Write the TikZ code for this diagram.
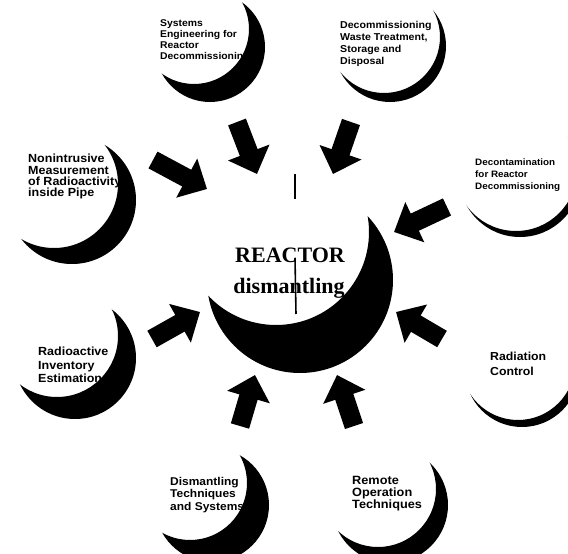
\documentclass[tikz,border=0pt]{standalone}
\usepackage{fontspec}
\setmainfont{Liberation Serif}
\newfontfamily\labfont[FakeStretch=1.06]{Liberation Sans}
\usetikzlibrary{arrows.meta}
\newcommand\mycrescent[5]{%
  \begin{scope}
    \clip (#1,#2) circle[radius=#3pt];
    \fill[black,even odd rule] (#1-100,#2-100) rectangle (#1+100,#2+100)
      (#1-#4,#2-#5) circle[radius=#3pt];
  \end{scope}}
\tikzset{
  bigarrow/.style={line width=19pt, -{Triangle[width=43pt,length=23pt]}},
  lab/.style={anchor=north west, inner sep=0pt, align=left, text=black},
  title/.style={anchor=base, inner sep=0pt, font=\bfseries\fontsize{22}{22}\selectfont}
}
\begin{document}
\begin{tikzpicture}[x=1pt,y=-1pt]
\fill[white] (0,0) rectangle (568,554);
\useasboundingbox (0,0) rectangle (568,554);
% crescents (shadowed spheres)
\mycrescent{300}{280}{93}{24}{48}
\mycrescent{210}{47}{55}{16}{18}
\mycrescent{390}{46}{56}{6}{9}
\mycrescent{72}{200}{64}{18}{16}
\mycrescent{520}{176}{61}{4}{6}
\mycrescent{75}{358}{61}{18}{22}
\mycrescent{522}{370}{57}{4}{7}
\mycrescent{212}{505}{57}{22}{22}
\mycrescent{390}{505}{58}{12}{16}
% scan marks near the centre
\draw[line width=2pt] (295,174) -- (295,199);
\draw[line width=1.6pt] (295,258) -- (296,314);
% labels
\node[lab, font=\labfont\bfseries\fontsize{9.8}{11.2}\selectfont] (s1) at (160,19) {Systems\\Engineering for\\Reactor\\Decommissioning};
\node[lab, font=\labfont\bfseries\fontsize{10}{12}\selectfont] (s2) at (340,21) {Decommissioning\\Waste Treatment,\\Storage and\\Disposal};
\node[lab, font=\labfont\bfseries\fontsize{11.8}{11.4}\selectfont] (s3) at (28,154) {Nonintrusive\\Measurement\\of Radioactivity\\inside Pipe};
\node[lab, font=\labfont\bfseries\fontsize{9.3}{12}\selectfont] (s4) at (475,159) {Decontamination\\for Reactor\\Decommissioning};
\node[lab, font=\labfont\bfseries\fontsize{11.8}{13.5}\selectfont] (s5) at (38,347) {Radioactive\\Inventory\\Estimation};
\node[lab, font=\labfont\bfseries\fontsize{11.6}{14.5}\selectfont] (s6) at (490,352) {Radiation\\Control};
\node[lab, font=\labfont\bfseries\fontsize{11.3}{12.5}\selectfont] (s7) at (170,477) {Dismantling\\Techniques\\and Systems};
\node[lab, font=\labfont\bfseries\fontsize{12}{12}\selectfont] (s8) at (352,476) {Remote\\Operation\\Techniques};
\node[title] (reactor) at (290,262) {REACTOR};
\node[title] (dism) at (289,293) {dismantling};
% arrows
\coordinate (a1) at (237,122); \coordinate (b1) at (257,174);
\coordinate (a2) at (351,122); \coordinate (b2) at (333,174);
\coordinate (a3) at (153,160); \coordinate (b3) at (207,189);
\coordinate (a4) at (447,207); \coordinate (b4) at (394,232);
\coordinate (a5) at (152,339); \coordinate (b5) at (200,312);
\coordinate (a6) at (442,339); \coordinate (b6) at (396,312);
\coordinate (a7) at (240,426); \coordinate (b7) at (255,375);
\coordinate (a8) at (354,426); \coordinate (b8) at (337,375);
\foreach \i in {1,...,8} {\draw[bigarrow] (a\i) -- (b\i);}
\end{tikzpicture}
\end{document}
